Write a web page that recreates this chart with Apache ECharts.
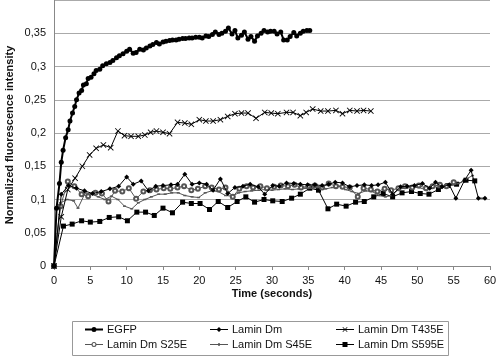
<!DOCTYPE html>
<html><head><meta charset="utf-8">
<script src="https://cdn.jsdelivr.net/npm/echarts@6/dist/echarts.min.js"></script>
<style>html,body{margin:0;padding:0;background:#fff}#c{width:500px;height:363px}</style>
</head><body><div id="c"></div>
<script>
var seriesNames = ["EGFP","Lamin Dm","Lamin Dm T435E","Lamin Dm S25E","Lamin Dm S45E","Lamin Dm S595E"];
var xTicks = [0,5,10,15,20,25,30,35,40,45,50,55,60];
var egfp = [[0,0],[0.35,0.087],[0.75,0.124],[1.0,0.156],[1.25,0.174],[1.6,0.193],[1.95,0.205],[2.2,0.218],[2.55,0.23],[2.85,0.24],[3.1,0.25],[3.45,0.26],[3.8,0.264],[4.05,0.272],[4.45,0.274],[4.7,0.282],[5.1,0.284],[5.5,0.289],[5.8,0.294],[6.3,0.296],[6.7,0.301],[7.2,0.304],[7.7,0.306],[8.1,0.309],[8.6,0.313],[9.0,0.316],[9.5,0.319],[10.0,0.323],[10.4,0.326],[10.9,0.32],[11.3,0.321],[11.8,0.326],[12.3,0.325],[12.7,0.328],[13.2,0.331],[13.6,0.333],[14.1,0.336],[14.5,0.334],[15.0,0.337],[15.4,0.338],[15.9,0.339],[16.3,0.34],[16.8,0.34],[17.2,0.341],[17.7,0.342],[18.1,0.342],[18.6,0.343],[19.0,0.343],[19.5,0.344],[20.0,0.344],[20.4,0.343],[20.9,0.346],[21.3,0.345],[21.8,0.348],[22.2,0.352],[22.7,0.348],[23.1,0.35],[23.6,0.353],[24.0,0.358],[24.5,0.349],[24.9,0.354],[25.3,0.343],[25.8,0.347],[26.2,0.352],[26.7,0.341],[27.1,0.345],[27.6,0.338],[28.0,0.346],[28.5,0.35],[28.9,0.354],[29.4,0.352],[29.8,0.353],[30.3,0.353],[30.7,0.349],[31.2,0.352],[31.6,0.34],[32.1,0.34],[32.5,0.345],[33.0,0.351],[33.4,0.346],[33.9,0.35],[34.3,0.353],[34.8,0.354],[35.2,0.354]];
var laminDm = [[0,0],[1.0,0.108],[2.0,0.121],[3.1,0.117],[4.2,0.113],[5.3,0.109],[6.5,0.112],[7.7,0.116],[8.9,0.12],[10.0,0.134],[10.9,0.123],[12.0,0.128],[13.0,0.113],[14.0,0.12],[15.0,0.121],[16.1,0.122],[17.0,0.123],[18.0,0.138],[19.0,0.123],[20.0,0.125],[21.0,0.123],[21.9,0.114],[22.9,0.131],[23.9,0.109],[24.9,0.118],[26.0,0.12],[27.0,0.123],[28.1,0.119],[29.0,0.108],[30.1,0.121],[31.0,0.12],[32.0,0.125],[33.0,0.124],[33.9,0.123],[34.9,0.122],[35.9,0.122],[36.9,0.121],[37.8,0.123],[38.7,0.126],[39.7,0.125],[40.7,0.119],[41.7,0.121],[42.7,0.122],[43.7,0.121],[44.6,0.122],[45.6,0.126],[46.6,0.108],[47.7,0.119],[48.6,0.12],[49.6,0.121],[50.7,0.124],[51.7,0.117],[52.5,0.126],[53.4,0.119],[54.4,0.122],[55.3,0.102],[56.5,0.129],[57.4,0.144],[58.4,0.102],[59.3,0.102]];
var t435e = [[0,0],[1.0,0.074],[1.9,0.115],[2.9,0.132],[3.9,0.15],[4.9,0.167],[5.8,0.177],[6.8,0.182],[7.8,0.178],[8.8,0.203],[9.7,0.196],[10.6,0.195],[11.6,0.195],[12.5,0.197],[13.3,0.201],[14.1,0.203],[15.0,0.201],[15.9,0.199],[17.0,0.216],[18.0,0.215],[18.9,0.213],[20.0,0.22],[20.9,0.218],[21.9,0.218],[22.9,0.22],[23.9,0.225],[24.9,0.229],[25.8,0.23],[26.7,0.23],[27.8,0.222],[29.0,0.231],[29.9,0.23],[30.8,0.229],[32.0,0.231],[32.9,0.231],[33.9,0.226],[34.7,0.231],[35.6,0.236],[36.7,0.233],[37.7,0.233],[38.8,0.234],[39.7,0.229],[40.7,0.234],[41.7,0.233],[42.6,0.234],[43.6,0.233]];
var s25e = [[0,0],[0.9,0.09],[1.9,0.127],[2.8,0.12],[3.8,0.108],[4.7,0.105],[5.7,0.11],[6.6,0.109],[7.5,0.097],[8.4,0.113],[9.4,0.112],[10.3,0.117],[11.3,0.101],[12.3,0.112],[13.2,0.114],[14.1,0.115],[15.1,0.117],[16.0,0.116],[17.0,0.118],[17.9,0.12],[18.9,0.114],[19.8,0.116],[20.8,0.12],[21.7,0.118],[22.7,0.115],[23.6,0.118],[24.6,0.104],[25.5,0.116],[26.5,0.12],[27.4,0.118],[28.4,0.12],[29.3,0.117],[30.3,0.119],[31.2,0.121],[32.2,0.12],[33.1,0.122],[34.0,0.118],[35.0,0.12],[35.9,0.121],[36.9,0.118],[37.8,0.124],[38.8,0.12],[39.7,0.119],[40.7,0.118],[41.8,0.104],[42.6,0.117],[43.6,0.115],[44.5,0.112],[45.5,0.116],[46.4,0.114],[47.4,0.117],[48.3,0.12],[49.3,0.118],[50.2,0.121],[51.2,0.117],[52.1,0.12],[53.1,0.122],[54.0,0.12],[55.0,0.126]];
var s45e = [[0,0],[0.9,0.095],[1.8,0.1],[2.7,0.098],[3.3,0.087],[4.3,0.11],[5.2,0.108],[6.1,0.104],[7.0,0.1],[7.9,0.105],[8.8,0.1],[9.7,0.09],[10.7,0.086],[11.6,0.095],[12.5,0.1],[13.4,0.104],[14.4,0.108],[15.3,0.108],[16.2,0.11],[17.1,0.11],[18.0,0.106],[19.0,0.104],[19.9,0.103],[20.8,0.11],[21.7,0.113],[22.6,0.112],[23.6,0.106],[24.5,0.105],[25.4,0.11],[26.3,0.112],[27.2,0.113],[28.2,0.114],[29.1,0.115],[30.0,0.114],[30.9,0.115],[31.8,0.116],[32.8,0.115],[33.7,0.116],[34.6,0.117],[35.5,0.117],[36.4,0.118],[37.4,0.116],[38.3,0.118],[39.2,0.12],[40.1,0.115],[41.0,0.112],[41.9,0.109],[42.9,0.113],[43.8,0.112],[44.7,0.106],[45.6,0.104],[46.5,0.106],[47.5,0.116],[48.4,0.117],[49.3,0.118],[50.2,0.118],[51.1,0.115],[52.1,0.12],[53.0,0.118],[53.9,0.12],[54.8,0.122],[55.7,0.124],[56.6,0.13],[57.6,0.136]];
var s595e = [[0,0],[1.3,0.06],[2.5,0.063],[3.8,0.068],[5.0,0.066],[6.3,0.067],[7.6,0.073],[8.9,0.074],[10.1,0.068],[11.4,0.081],[12.6,0.081],[13.8,0.076],[15.0,0.087],[16.3,0.08],[17.7,0.096],[18.9,0.094],[20.1,0.094],[21.4,0.085],[22.6,0.097],[23.9,0.088],[25.2,0.097],[26.4,0.104],[27.6,0.096],[28.9,0.1],[30.1,0.098],[31.4,0.097],[32.7,0.102],[33.9,0.108],[35.2,0.117],[36.4,0.114],[37.7,0.086],[38.9,0.093],[40.2,0.09],[41.5,0.096],[42.7,0.097],[44.0,0.104],[45.3,0.109],[46.6,0.104],[47.9,0.11],[49.2,0.112],[50.4,0.109],[51.6,0.108],[52.9,0.115],[54.2,0.121],[55.4,0.123],[56.7,0.129],[57.9,0.128]];

var FONT = '"Liberation Sans", Arial, sans-serif';
var crossPath = 'path://M0,1L1,0L5,4L9,0L10,1L6,5L10,9L9,10L5,6L1,10L0,9L4,5Z';
// legend icons: a short line with the series marker, drawn in an 18 x 5 box
var legendIcons = [
  'path://M0,1.5H18V3.5H0Z M6.5,2.5A2.5,2.5 0 1 1 11.5,2.5A2.5,2.5 0 1 1 6.5,2.5Z',
  'path://M0,2H18V3H0Z M9,0L11.5,2.5L9,5L6.5,2.5Z',
  'path://M0,2H18V3H0Z M6.5,0.5L7,0L9,2L11,0L11.5,0.5L9.5,2.5L11.5,4.5L11,5L9,3L7,5L6.5,4.5L8.5,2.5Z',
  'path://M0,2H6.6V3H0Z M11.4,2H18V3H11.4Z M6.5,2.5A2.5,2.5 0 1 1 11.5,2.5A2.5,2.5 0 1 1 6.5,2.5Z M7.6,2.5A1.4,1.4 0 1 0 10.4,2.5A1.4,1.4 0 1 0 7.6,2.5Z',
  'path://M0,2H18V3H0Z M8,1.2H10V3.8H8Z M0,0H0.01V0.01H0Z M0,4.99H0.01V5H0Z',
  'path://M0,2H18V3H0Z M6.5,0H11.5V5H6.5Z'
];
var styles = [
  {data: egfp, symbol: 'circle', size: 5, lw: 2, color: '#000'},
  {data: laminDm, symbol: 'diamond', size: 5, lw: 1, color: '#000'},
  {data: t435e, symbol: crossPath, size: 6, lw: 1, color: '#000'},
  {data: s25e, symbol: 'emptyCircle', size: 4, lw: 1, color: '#555'},
  {data: s45e, symbol: 'rect', size: [3,1.5], lw: 1, color: '#555'},
  {data: s595e, symbol: 'rect', size: 5, lw: 1, color: '#000'}
];
var series = styles.map(function(s, i){
  return {
    name: seriesNames[i], type: 'line', data: s.data,
    symbol: s.symbol, symbolSize: s.size, showAllSymbol: true,
    lineStyle: {color: s.color, width: s.lw},
    itemStyle: {color: s.color, borderColor: s.color, borderWidth: s.symbol === 'emptyCircle' ? 1 : 0},
    emphasis: {disabled: true}, z: 10 - i
  };
});
var legendPos = [[85,324],[210,324],[336,324],[85,339],[210,339],[336,339]];
var legends = seriesNames.map(function(n, i){
  return {
    data: [{name: n, icon: legendIcons[i]}], left: legendPos[i][0], top: legendPos[i][1],
    itemWidth: 18, itemHeight: 5, itemGap: 0, padding: 0,
    itemStyle: {color: styles[i].color, borderWidth: 0},
    textStyle: {fontFamily: FONT, fontSize: 11, color: '#111', padding: [0,0,0,-1]},
    selectedMode: false
  };
});
var chart = echarts.init(document.getElementById('c'), null, {renderer: 'canvas'});
chart.setOption({
  animation: false,
  backgroundColor: '#fff',
  grid: {left: 54, right: 10, top: -5, bottom: 97},
  xAxis: {
    type: 'value', min: 0, max: 60, interval: 5,
    axisLine: {lineStyle: {color: '#888', width: 1}},
    axisTick: {show: true, length: 4, lineStyle: {color: '#888'}},
    splitLine: {show: false},
    axisLabel: {fontFamily: FONT, fontSize: 11, color: '#111', margin: 9,
      formatter: function(v){ return xTicks.indexOf(v) >= 0 ? String(v) : ''; }}
  },
  yAxis: {
    type: 'value', min: 0, max: 0.4, interval: 0.05,
    axisLine: {show: true, lineStyle: {color: '#888', width: 1}},
    axisTick: {show: false},
    splitLine: {show: true, lineStyle: {color: '#aaa', width: 1}},
    axisLabel: {fontFamily: FONT, fontSize: 11, color: '#111', margin: 8,
      formatter: function(v){ if (v > 0.36) return ''; return String(+v.toFixed(2)).replace('.', ','); }}
  },
  legend: legends,
  graphic: [
    {type: 'rect', shape: {x: 72.5, y: 321.5, width: 376, height: 34}, style: {fill: 'none', stroke: '#999', lineWidth: 1}, z: -1},
    {type: 'text', x: 272, y: 294, style: {text: 'Time (seconds)', font: 'bold 11px ' + FONT, fill: '#111', align: 'center', verticalAlign: 'middle'}},
    {type: 'text', x: 10, y: 135, rotation: Math.PI/2, style: {text: 'Normalized fluorescence intensity', font: 'bold 11px ' + FONT, fill: '#111', align: 'center', verticalAlign: 'middle'}}
  ],
  series: series
});
</script></body></html>
